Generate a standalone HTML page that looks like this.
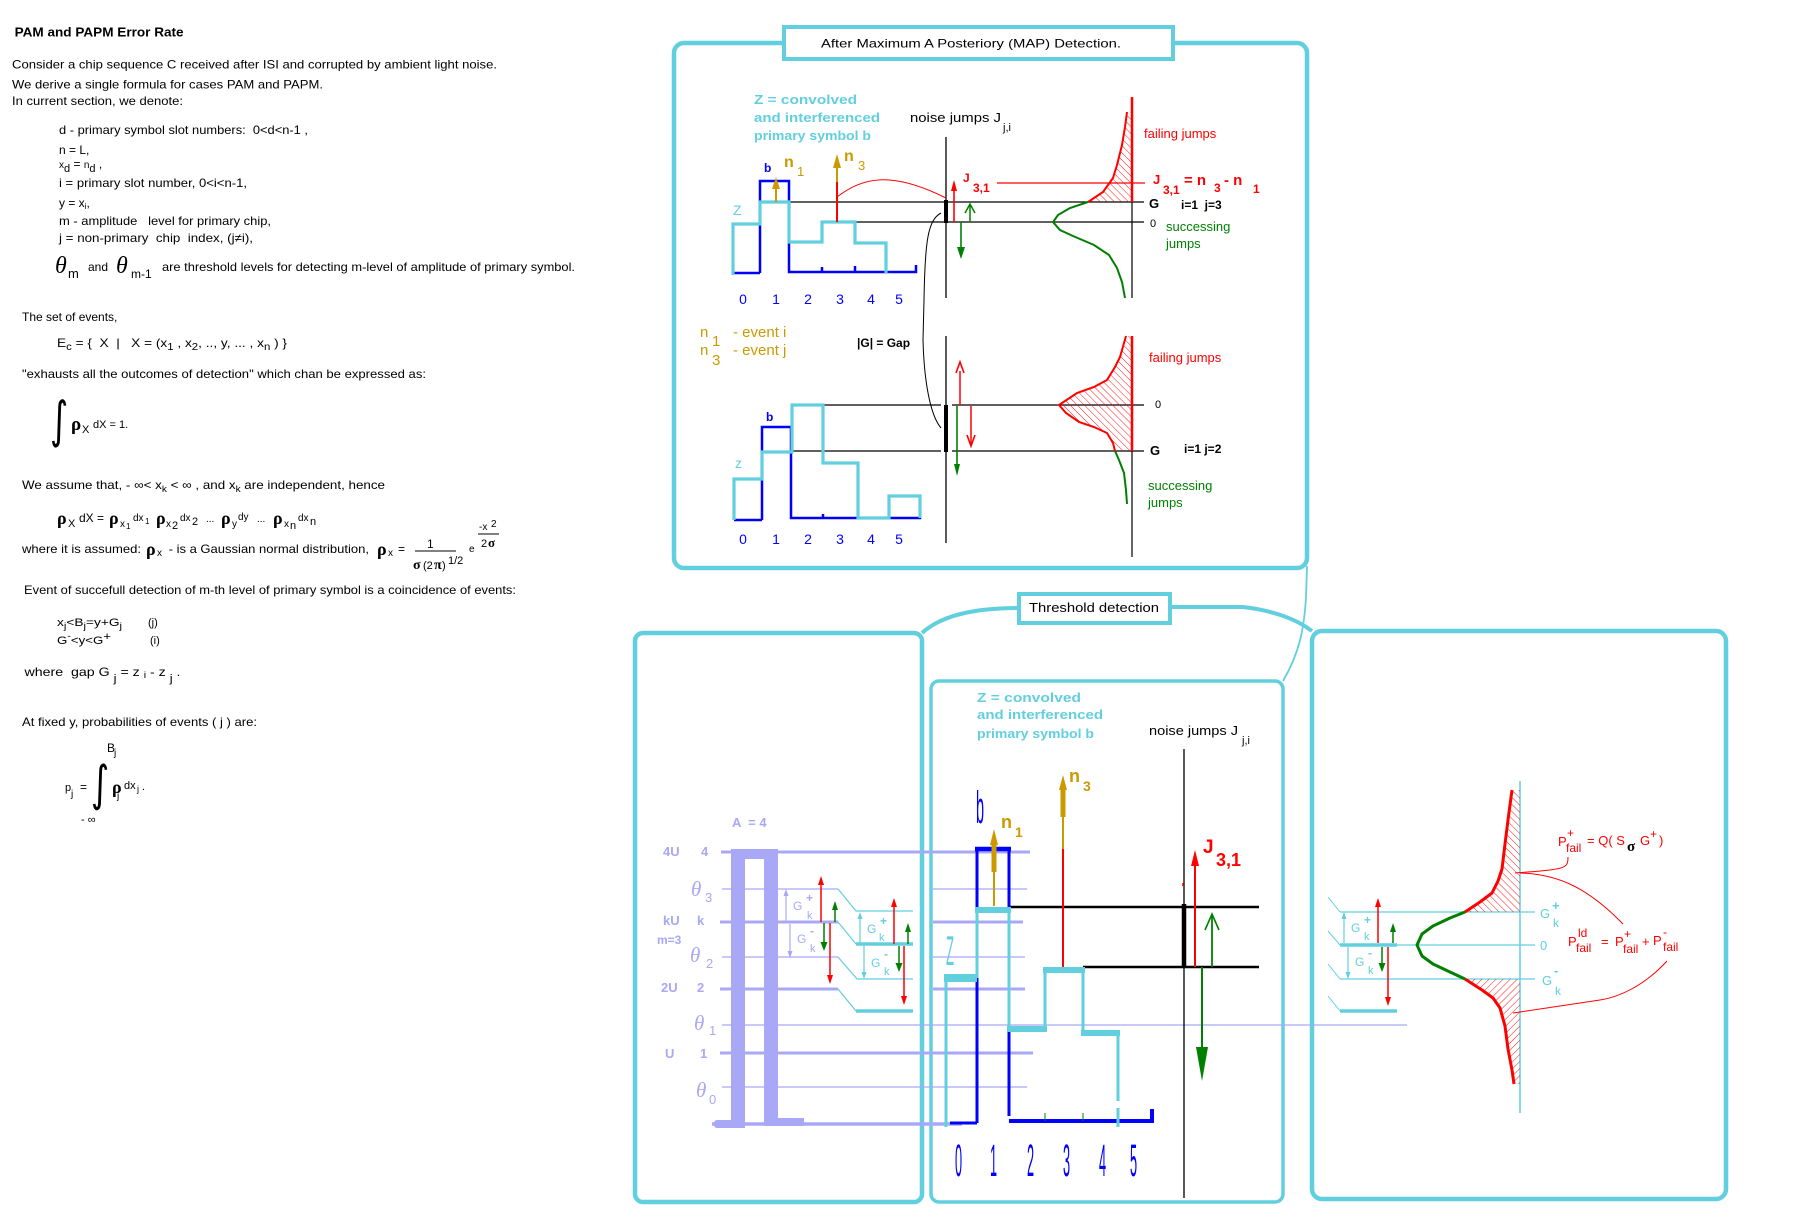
<!DOCTYPE html>
<html><head><meta charset="utf-8"><style>
html,body{margin:0;padding:0;background:#fff;}
svg{display:block;}
text{font-family:"Liberation Sans",Arial,sans-serif;white-space:pre;}
.sr{font-family:"Liberation Serif","DejaVu Serif",serif;}
.ig{font-family:"DejaVu Sans",sans-serif;}
</style></head><body>
<svg xmlns="http://www.w3.org/2000/svg" width="1795" height="1232" viewBox="0 0 1795 1232">
<defs>
<pattern id="hd" width="5" height="5" patternUnits="userSpaceOnUse" patternTransform="rotate(-45)"><line x1="0" y1="0" x2="0" y2="5" stroke="#f00" stroke-width="0.9"/></pattern>
<pattern id="hu" width="5" height="5" patternUnits="userSpaceOnUse" patternTransform="rotate(45)"><line x1="0" y1="0" x2="0" y2="5" stroke="#f00" stroke-width="0.9"/></pattern>
</defs>
<rect width="1795" height="1232" fill="#fff"/>

<!-- ============ LEFT TEXT ============ -->
<g fill="#000">
<text x="14.6" y="36.5" font-size="13" font-weight="bold" textLength="169" lengthAdjust="spacingAndGlyphs">PAM and PAPM Error Rate</text>
<g font-size="12">
<text x="12" y="68.5" textLength="485" lengthAdjust="spacingAndGlyphs">Consider a chip sequence C received after ISI and corrupted by ambient light noise.</text>
<text x="12" y="88.5" textLength="311" lengthAdjust="spacingAndGlyphs">We derive a single formula for cases PAM and PAPM.</text>
<text x="12" y="105" textLength="171" lengthAdjust="spacingAndGlyphs">In current section, we denote:</text>
<text x="59" y="134" textLength="249" lengthAdjust="spacingAndGlyphs">d - primary symbol slot numbers:  0&lt;d&lt;n-1 ,</text>
<text x="59" y="154">n = L,</text>
<text x="59" y="168"><tspan font-size="10">x</tspan><tspan font-size="11" dy="4">d</tspan><tspan dy="-4"> = </tspan><tspan font-size="10">n</tspan><tspan font-size="11" dy="4">d</tspan><tspan dy="-4"> ,</tspan></text>
<text x="59" y="187" textLength="188" lengthAdjust="spacingAndGlyphs">i = primary slot number, 0&lt;i&lt;n-1,</text>
<text x="59" y="207">y = x<tspan font-size="8" dy="2">i</tspan><tspan dy="-2">,</tspan></text>
<text x="59" y="225" textLength="212" lengthAdjust="spacingAndGlyphs">m - amplitude   level for primary chip,</text>
<text x="59" y="242" textLength="194" lengthAdjust="spacingAndGlyphs">j = non-primary  chip  index, (j≠i),</text>
<text x="55" y="273" class="sr" font-style="italic" font-size="24">θ</text>
<text x="68" y="278" font-size="13">m</text>
<text x="88" y="271">and</text>
<text x="116" y="273" class="sr" font-style="italic" font-size="24">θ</text>
<text x="131" y="278" font-size="12">m-1</text>
<text x="162" y="271" textLength="413" lengthAdjust="spacingAndGlyphs">are threshold levels for detecting m-level of amplitude of primary symbol.</text>
<text x="22" y="321">The set of events,</text>
<text x="57" y="347" textLength="230" lengthAdjust="spacingAndGlyphs">E<tspan font-size="10" dy="3">c</tspan><tspan dy="-3"> = {  X  |   X = (x</tspan><tspan font-size="10" dy="3">1</tspan><tspan dy="-3"> , x</tspan><tspan font-size="10" dy="3">2</tspan><tspan dy="-3">, .., y, ... , x</tspan><tspan font-size="10" dy="3">n</tspan><tspan dy="-3"> ) }</tspan></text>
<text x="22" y="378" textLength="404" lengthAdjust="spacingAndGlyphs">"exhausts all the outcomes of detection" which chan be expressed as:</text>
<text class="ig" transform="translate(50,437) scale(0.7,1)" font-size="50">∫</text>
<text x="71" y="430" class="sr" font-weight="bold" font-size="19">ρ</text>
<text x="82" y="433" font-size="11">X</text>
<text x="93" y="428" font-size="11">dX = 1.</text>

<text x="22" y="489" textLength="363" lengthAdjust="spacingAndGlyphs">We assume that, - ∞&lt; x<tspan font-size="9" dy="3">k</tspan><tspan dy="-3"> &lt; ∞ , and x</tspan><tspan font-size="9" dy="3">k</tspan><tspan dy="-3"> are independent, hence</tspan></text>

<text x="57" y="524" class="sr" font-weight="bold" font-size="18">ρ</text><text x="68" y="527" font-size="11">X</text><text x="79" y="522">dX =</text>
<text x="109" y="524" class="sr" font-weight="bold" font-size="18">ρ</text><text x="120" y="527" font-size="10">x</text><text x="126" y="529" font-size="8">1</text><text x="133" y="521" font-size="10">dx</text><text x="145" y="524" font-size="8">1</text>
<text x="156" y="524" class="sr" font-weight="bold" font-size="18">ρ</text><text x="166" y="527" font-size="10">x</text><text x="172" y="529" font-size="11">2</text><text x="180" y="521" font-size="10">dx</text><text x="192" y="525" font-size="11">2</text>
<text x="206" y="522" font-size="10">...</text>
<text x="221" y="524" class="sr" font-weight="bold" font-size="18">ρ</text><text x="232" y="527" font-size="10">y</text><text x="238" y="520" font-size="10">dy</text>
<text x="257" y="522" font-size="10">...</text>
<text x="273" y="524" class="sr" font-weight="bold" font-size="18">ρ</text><text x="284" y="527" font-size="10">x</text><text x="290" y="529" font-size="11">n</text><text x="298" y="521" font-size="10">dx</text><text x="310" y="525" font-size="11">n</text>

<text x="22" y="553" textLength="119" lengthAdjust="spacingAndGlyphs">where it is assumed:</text>
<text x="146" y="555" class="sr" font-weight="bold" font-size="18">ρ</text><text x="157" y="556" font-size="10">x</text>
<text x="165" y="553" textLength="204" lengthAdjust="spacingAndGlyphs"> - is a Gaussian normal distribution,</text>
<text x="377" y="555" class="sr" font-weight="bold" font-size="18">ρ</text><text x="388" y="556" font-size="10">x</text>
<text x="398" y="553">=</text>
<text x="427" y="548" font-size="12">1</text>
<line x1="415" y1="551" x2="456" y2="551" stroke="#000" stroke-width="1"/>
<text x="413" y="569" class="sr" font-weight="bold" font-size="14">σ</text><text x="423" y="569" font-size="11">(2</text><text x="434" y="569" class="sr" font-weight="bold" font-size="14">π</text><text x="442" y="569" font-size="11">)</text>
<text x="448" y="564" font-size="11">1/2</text>
<text x="469" y="552" font-size="10">e</text>
<text x="479" y="530" font-size="10">-x</text><text x="491" y="527" font-size="10">2</text>
<line x1="478" y1="534" x2="499" y2="534" stroke="#000" stroke-width="1"/>
<text x="481" y="547" font-size="11">2</text><text x="488" y="547" class="sr" font-weight="bold" font-size="13">σ</text>

<text x="24" y="594" textLength="492" lengthAdjust="spacingAndGlyphs">Event of succefull detection of m-th level of primary symbol is a coincidence of events:</text>
<text x="57" y="626" font-size="11" textLength="65" lengthAdjust="spacingAndGlyphs">x<tspan font-size="9" dy="3">j</tspan><tspan dy="-3">&lt;B</tspan><tspan font-size="9" dy="3">j</tspan><tspan dy="-3">=y+G</tspan><tspan font-size="9" dy="3">j</tspan></text>
<text x="148" y="626" font-size="11">(j)</text>
<text x="57" y="644" font-size="11" textLength="54" lengthAdjust="spacingAndGlyphs">G<tspan font-size="9" dy="-5">-</tspan><tspan dy="5">&lt;y&lt;G</tspan><tspan dy="-4">+</tspan></text>
<text x="150" y="644" font-size="11">(i)</text>
<text x="24.5" y="676" textLength="156" lengthAdjust="spacingAndGlyphs">where  gap G <tspan font-size="11" dy="6">j</tspan><tspan dy="-6"> = z </tspan><tspan font-size="9" dy="2">i</tspan><tspan dy="-2"> - z </tspan><tspan font-size="11" dy="6">j</tspan><tspan dy="-6"> .</tspan></text>
<text x="22" y="726" textLength="235" lengthAdjust="spacingAndGlyphs">At fixed y, probabilities of events ( j ) are:</text>
<text x="107" y="752">B</text><text x="114" y="756" font-size="10">j</text>
<text x="65" y="791" font-size="11">p</text><text x="71" y="797" font-size="10">j</text><text x="80" y="791">=</text>
<text class="ig" transform="translate(91,800) scale(0.7,0.97)" font-size="50">∫</text>
<text x="112" y="793" class="sr" font-weight="bold" font-size="18">ρ</text><text x="117" y="799" font-size="10">j</text>
<text x="124" y="789" font-size="11">dx</text><text x="137" y="792" font-size="9">j</text><text x="142" y="790" font-size="11">.</text>
<text x="81" y="823" font-size="11">- ∞</text>
</g>
</g>

<!-- ============ TOP MAP PANEL ============ -->
<rect x="674" y="43" width="633" height="525" rx="10" fill="none" stroke="#62cfdf" stroke-width="4.5"/>
<rect x="784" y="27" width="389" height="32" fill="#fff" stroke="#62cfdf" stroke-width="4"/>
<text x="971" y="47.5" font-size="12" text-anchor="middle" textLength="300" lengthAdjust="spacingAndGlyphs">After Maximum A Posteriory (MAP) Detection.</text>

<path d="M1307,566 L1306,598 C1304,628 1300,652 1283,681" stroke="#62cfdf" stroke-width="1.8" fill="none"/>

<g fill="#62cfdf" font-weight="bold" font-size="12.5">
<text x="754" y="104" textLength="103" lengthAdjust="spacingAndGlyphs">Z = convolved</text>
<text x="754" y="122" textLength="126" lengthAdjust="spacingAndGlyphs">and interferenced</text>
<text x="754" y="140" textLength="117" lengthAdjust="spacingAndGlyphs">primary symbol b</text>
</g>
<text x="910" y="122" font-size="13" textLength="91" lengthAdjust="spacingAndGlyphs">noise jumps J</text>
<text x="1003" y="131" font-size="11">j,i</text>

<line x1="946" y1="137" x2="946" y2="298" stroke="#000" stroke-width="1.3"/>
<line x1="946" y1="336" x2="946" y2="543" stroke="#000" stroke-width="1.3"/>

<line x1="789" y1="202" x2="1144" y2="202" stroke="#000" stroke-width="1.2"/>
<line x1="855" y1="222" x2="1144" y2="222" stroke="#000" stroke-width="1.2"/>
<path d="M733,273 L760,273 M760,273 L760,181 L789,181 L789,272 L916,272 L916,265 M822,272 L822,267 M855,272 L855,266" stroke="#0000ff" stroke-width="2.5" fill="none"/>
<path d="M733,275 L733,224 L760,224 L760,202 L789,202 L789,242 L822,242 L822,222 L855,222 L855,243 L886,243 L886,273" stroke="#62cfdf" stroke-width="3.2" fill="none"/>
<text x="764" y="172" font-size="12" font-weight="bold" fill="#0000ff">b</text>
<text x="733" y="215" font-size="14" fill="#62cfdf">Z</text>
<line x1="776" y1="202" x2="776" y2="185" stroke="#cc9900" stroke-width="2"/>
<polygon points="776,177 772,189 780,189" fill="#cc9900"/>
<text x="784" y="167" font-size="16" font-weight="bold" fill="#cc9900">n</text>
<text x="797" y="176" font-size="13" fill="#cc9900">1</text>
<line x1="837" y1="222" x2="837" y2="182" stroke="#f00" stroke-width="2"/>
<line x1="837" y1="182" x2="837" y2="162" stroke="#cc9900" stroke-width="2"/>
<polygon points="837,154 833,168 841,168" fill="#cc9900"/>
<text x="844" y="161" font-size="16" font-weight="bold" fill="#cc9900">n</text>
<text x="858" y="170" font-size="13" fill="#cc9900">3</text>
<path d="M837,197 C862,178 890,170 946,198" stroke="#f00" stroke-width="1" fill="none"/>
<line x1="997" y1="183" x2="1145" y2="183" stroke="#f00" stroke-width="1.2"/>
<line x1="946" y1="200" x2="946" y2="223" stroke="#000" stroke-width="4"/>
<line x1="954" y1="222" x2="954" y2="188" stroke="#f00" stroke-width="1.6"/>
<polygon points="954,180 951,191 957,191" fill="#f00"/>
<line x1="970" y1="222" x2="970" y2="205" stroke="#008000" stroke-width="1.5"/>
<polyline points="965,213 970,204 975,213" stroke="#008000" stroke-width="1.5" fill="none"/>
<line x1="961" y1="222" x2="961" y2="250" stroke="#008000" stroke-width="1.6"/>
<polygon points="961,259 957,247 965,247" fill="#008000"/>
<text x="963" y="182" font-size="12" font-weight="bold" fill="#f00">J</text>
<text x="973" y="192" font-size="12" font-weight="bold" fill="#f00">3,1</text>
<path d="M941,213 C928,220 925,240 924,300 L923,340 C924,380 930,415 941,428" stroke="#000" stroke-width="1" fill="none"/>
<polygon points="1088,202 1103,192 1113,178 1117,165 1122,145 1125,127 1127,112 1132,112 1132,202" fill="url(#hd)"/>
<polyline points="1088,202 1103,192 1113,178 1117,165 1122,145 1125,127 1127,112" stroke="#f00" stroke-width="2" fill="none"/>
<polyline points="1088,202 1070,208 1058,215 1053,222 1060,230 1073,236 1094,245 1109,255 1117,268 1122,282 1125,298" stroke="#008000" stroke-width="2" fill="none"/>
<line x1="1132" y1="97" x2="1132" y2="202" stroke="#f00" stroke-width="2.5"/>
<line x1="1132" y1="202" x2="1132" y2="298" stroke="#000" stroke-width="1.2"/>
<text x="1144" y="138" font-size="13" fill="#f00">failing jumps</text>
<text x="1153" y="184" font-size="13" font-weight="bold" fill="#f00">J</text>
<text x="1163" y="194" font-size="12" font-weight="bold" fill="#f00">3,1</text>
<text x="1184" y="185" font-size="15" font-weight="bold" fill="#f00">= n</text>
<text x="1214" y="192" font-size="12" font-weight="bold" fill="#f00">3</text>
<text x="1224" y="185" font-size="15" font-weight="bold" fill="#f00">- n</text>
<text x="1253" y="193" font-size="12" font-weight="bold" fill="#f00">1</text>
<text x="1149" y="208" font-size="13" font-weight="bold">G</text>
<text x="1181" y="209" font-size="12" font-weight="bold">i=1  j=3</text>
<text x="1150" y="227" font-size="11">0</text>
<text x="1166" y="231" font-size="13" fill="#008000">successing</text>
<text x="1166" y="248" font-size="13" fill="#008000">jumps</text>
<g font-size="14" fill="#0000ff" text-anchor="middle">
<text x="743" y="304">0</text><text x="776" y="304">1</text><text x="808" y="304">2</text><text x="840" y="304">3</text><text x="871" y="304">4</text><text x="899" y="304">5</text>
</g>

<g fill="#cc9900">
<text x="700" y="337" font-size="15">n</text><text x="712" y="346" font-size="15">1</text><text x="733" y="337" font-size="15">- event i</text>
<text x="700" y="355" font-size="15">n</text><text x="712" y="365" font-size="15">3</text><text x="733" y="355" font-size="15">- event j</text>
</g>
<text x="857" y="347" font-size="12" font-weight="bold">|G| = Gap</text>

<line x1="793" y1="405" x2="941" y2="405" stroke="#000" stroke-width="1.2"/>
<line x1="952" y1="405" x2="1144" y2="405" stroke="#000" stroke-width="1.2"/>
<line x1="793" y1="451" x2="941" y2="451" stroke="#000" stroke-width="1.2"/>
<line x1="952" y1="451" x2="1144" y2="451" stroke="#000" stroke-width="1.2"/>
<path d="M734,520 L762,520 M762,520 L762,427 L791,427 L791,518 L920,518 L920,511 M823,518 L823,514" stroke="#0000ff" stroke-width="2.5" fill="none"/>
<path d="M734,520 L734,479 L762,479 L762,452 L792,452 L792,405 L823,405 L823,463 L858,463 L858,518 L889,518 L889,496 L920,496 L920,518" stroke="#62cfdf" stroke-width="3.2" fill="none"/>
<text x="766" y="421" font-size="12" font-weight="bold" fill="#0000ff">b</text>
<text x="735" y="468" font-size="14" fill="#62cfdf">z</text>
<line x1="946" y1="405" x2="946" y2="452" stroke="#000" stroke-width="4"/>
<line x1="960" y1="405" x2="960" y2="371" stroke="#f00" stroke-width="1.5"/>
<polyline points="956,373 960,362 964,373" stroke="#f00" stroke-width="1.6" fill="none"/>
<line x1="971" y1="406" x2="971" y2="444" stroke="#f00" stroke-width="1.5"/>
<polyline points="967,435 971,446 975,435" stroke="#f00" stroke-width="1.6" fill="none"/>
<line x1="957" y1="406" x2="957" y2="466" stroke="#008000" stroke-width="1.6"/>
<polygon points="957,476 954,464 960,464" fill="#008000"/>
<polygon points="1126,336 1120,357 1115,367 1107,380 1094,387 1077,393 1059,405 1066,413 1079,422 1094,427 1107,433 1113,443 1115,451 1132,451 1132,336" fill="url(#hd)"/>
<polyline points="1126,336 1120,357 1115,367 1107,380 1094,387 1077,393 1059,405 1066,413 1079,422 1094,427 1107,433 1113,443 1115,451" stroke="#f00" stroke-width="2" fill="none"/>
<polyline points="1115,451 1119,460 1124,473 1126,490 1127,504" stroke="#008000" stroke-width="2" fill="none"/>
<line x1="1132" y1="336" x2="1132" y2="451" stroke="#f00" stroke-width="2.5"/>
<line x1="1132" y1="451" x2="1132" y2="557" stroke="#000" stroke-width="1.2"/>
<text x="1149" y="362" font-size="13" fill="#f00">failing jumps</text>
<text x="1155" y="408" font-size="11">0</text>
<text x="1150" y="455" font-size="13" font-weight="bold">G</text>
<text x="1184" y="453" font-size="12" font-weight="bold">i=1 j=2</text>
<text x="1148" y="490" font-size="13" fill="#008000">successing</text>
<text x="1148" y="507" font-size="13" fill="#008000">jumps</text>
<g font-size="14" fill="#0000ff" text-anchor="middle">
<text x="743" y="544">0</text><text x="776" y="544">1</text><text x="808" y="544">2</text><text x="840" y="544">3</text><text x="871" y="544">4</text><text x="899" y="544">5</text>
</g>

<!-- ============ LOWER PANELS ============ -->
<rect x="635" y="633" width="287" height="569" rx="8" fill="none" stroke="#62cfdf" stroke-width="4.5"/>
<rect x="931" y="681" width="352" height="521" rx="8" fill="none" stroke="#62cfdf" stroke-width="3.5"/>
<rect x="1312" y="631" width="414" height="568" rx="10" fill="none" stroke="#62cfdf" stroke-width="4.5"/>
<path d="M1019,608 C985,608 945,612 922,633" stroke="#62cfdf" stroke-width="4" fill="none"/>
<path d="M1170,607 L1243,607 C1270,610 1295,618 1312,631" stroke="#62cfdf" stroke-width="4" fill="none"/>
<rect x="1019" y="594" width="151" height="29" fill="#fff" stroke="#62cfdf" stroke-width="4"/>
<text x="1094" y="612" font-size="13" text-anchor="middle" textLength="130" lengthAdjust="spacingAndGlyphs">Threshold detection</text>

<g stroke="#a8a8f6" fill="none">
<line x1="721" y1="852" x2="1030" y2="852" stroke-width="3"/>
<line x1="722" y1="889" x2="838" y2="889" stroke-width="1.2"/>
<line x1="720" y1="922" x2="838" y2="922" stroke-width="3"/>
<line x1="722" y1="957" x2="838" y2="957" stroke-width="1.2"/>
<line x1="720" y1="989" x2="838" y2="989" stroke-width="3"/>
<line x1="722" y1="1025" x2="1407" y2="1025" stroke-width="1.2"/>
<line x1="720" y1="1053" x2="1033" y2="1053" stroke-width="3"/>
<line x1="722" y1="1087" x2="1027" y2="1087" stroke-width="1.2"/>
<line x1="712" y1="1124" x2="962" y2="1124" stroke-width="3.5"/>
<line x1="933" y1="889" x2="1027" y2="889" stroke-width="1.2"/>
<line x1="933" y1="922" x2="1023" y2="922" stroke-width="3"/>
<line x1="933" y1="957" x2="1025" y2="957" stroke-width="1.2"/>
<line x1="933" y1="989" x2="1025" y2="989" stroke-width="3"/>
</g>
<g fill="#a8a8f6">
<rect x="731" y="849" width="47" height="10"/>
<rect x="731" y="849" width="14" height="279"/>
<rect x="764" y="849" width="14" height="277"/>
<rect x="714" y="1120" width="31" height="8" rx="3"/>
<rect x="764" y="1118" width="40" height="8"/>
</g>
<g stroke="#62cfdf" fill="none">
<path d="M838,889 L856,911 L913,911" stroke-width="1.2"/>
<path d="M838,922 L856,944" stroke-width="1.2"/>
<line x1="856" y1="944" x2="913" y2="944" stroke-width="3.5"/>
<path d="M838,957 L857,979 L913,979" stroke-width="1.2"/>
<path d="M838,989 L856,1011" stroke-width="1.2"/>
<line x1="856" y1="1011" x2="913" y2="1011" stroke-width="3.5"/>
</g>
<g fill="#a8a8f6" font-weight="bold" font-size="13">
<text x="732" y="827">A  = 4</text>
<text x="663" y="856">4U</text><text x="701" y="856">4</text>
<text x="663" y="925">kU</text><text x="697" y="925">k</text>
<text x="657" y="944" font-size="12">m=3</text>
<text x="661" y="992">2U</text><text x="697" y="992">2</text>
<text x="665" y="1058">U</text><text x="700" y="1058">1</text>
</g>
<g fill="#a8a8f6">
<text x="691" y="896" class="sr" font-style="italic" font-size="21">θ</text><text x="705" y="902" font-size="13">3</text>
<text x="690" y="962" class="sr" font-style="italic" font-size="21">θ</text><text x="706" y="968" font-size="13">2</text>
<text x="694" y="1030" class="sr" font-style="italic" font-size="21">θ</text><text x="709" y="1035" font-size="13">1</text>
<text x="696" y="1097" class="sr" font-style="italic" font-size="21">θ</text><text x="709" y="1104" font-size="13">0</text>
</g>
<g stroke-width="1.2" fill="none">
<line x1="786" y1="892" x2="786" y2="921" stroke="#a8a8f6"/>
<line x1="790" y1="924" x2="790" y2="955" stroke="#a8a8f6"/>
<line x1="821" y1="922" x2="821" y2="882" stroke="#f00" stroke-width="1.5"/>
<line x1="830" y1="923" x2="830" y2="978" stroke="#f00" stroke-width="1.5"/>
<line x1="835" y1="922" x2="835" y2="907" stroke="#008000" stroke-width="1.5"/>
<line x1="824" y1="923" x2="824" y2="945" stroke="#008000" stroke-width="1.5"/>
</g>
<polygon points="786,889 783.5,896 788.5,896" fill="#a8a8f6"/>
<polygon points="790,958 787.5,951 792.5,951" fill="#a8a8f6"/>
<polygon points="821,876 818,885 824,885" fill="#f00"/>
<polygon points="830,984 827,975 833,975" fill="#f00"/>
<polygon points="835,901 832,910 838,910" fill="#008000"/>
<polygon points="824,951 820.5,942 827.5,942" fill="#008000"/>
<g fill="#a8a8f6" font-size="12">
<text x="793" y="910">G</text><text x="806" y="902" font-size="12" font-weight="bold">+</text><text x="807" y="919" font-size="11">k</text>
<text x="797" y="943">G</text><text x="810" y="935" font-size="12" font-weight="bold">-</text><text x="810" y="952" font-size="11">k</text>
</g>
<g stroke-width="1.2" fill="none">
<line x1="860" y1="915" x2="860" y2="943" stroke="#62cfdf"/>
<line x1="864" y1="946" x2="864" y2="976" stroke="#62cfdf"/>
<line x1="894" y1="944" x2="894" y2="904" stroke="#f00" stroke-width="1.5"/>
<line x1="904" y1="946" x2="904" y2="998" stroke="#f00" stroke-width="1.5"/>
<line x1="908" y1="944" x2="908" y2="929" stroke="#008000" stroke-width="1.5"/>
<line x1="899" y1="946" x2="899" y2="966" stroke="#008000" stroke-width="1.5"/>
</g>
<polygon points="860,912 857.5,919 862.5,919" fill="#62cfdf"/>
<polygon points="864,979 861.5,972 866.5,972" fill="#62cfdf"/>
<polygon points="894,898 891,907 897,907" fill="#f00"/>
<polygon points="904,1005 901,996 907,996" fill="#f00"/>
<polygon points="908,923 905,932 911,932" fill="#008000"/>
<polygon points="899,972 895.5,963 902.5,963" fill="#008000"/>
<g fill="#62cfdf" font-size="12">
<text x="867" y="933">G</text><text x="880" y="925" font-weight="bold">+</text><text x="879" y="941" font-size="11">k</text>
<text x="871" y="967">G</text><text x="884" y="958" font-weight="bold">-</text><text x="884" y="975" font-size="11">k</text>
</g>

<!-- ============ MIDDLE PANEL CONTENT ============ -->
<g fill="#62cfdf" font-weight="bold" font-size="12.5">
<text x="977" y="702" textLength="104" lengthAdjust="spacingAndGlyphs">Z = convolved</text>
<text x="977" y="719" textLength="126" lengthAdjust="spacingAndGlyphs">and interferenced</text>
<text x="977" y="738" textLength="117" lengthAdjust="spacingAndGlyphs">primary symbol b</text>
</g>
<text x="1149" y="735" font-size="13" textLength="89" lengthAdjust="spacingAndGlyphs">noise jumps J</text>
<text x="1242" y="744" font-size="11">j,i</text>
<line x1="1184" y1="749" x2="1184" y2="1198" stroke="#000" stroke-width="1.3"/>
<line x1="1009" y1="907" x2="1259" y2="907" stroke="#000" stroke-width="2.5"/>
<line x1="1083" y1="967" x2="1259" y2="967" stroke="#000" stroke-width="2.5"/>
<line x1="1184" y1="904" x2="1184" y2="968" stroke="#000" stroke-width="4.5"/>
<line x1="1183" y1="883" x2="1183" y2="886" stroke="#f00" stroke-width="1.5"/>
<path d="M950,1123 L977,1123 M977,1123 L977,849 L1009,849 L1009,1116" stroke="#0000ff" stroke-width="3" fill="none"/>
<line x1="975" y1="849" x2="1011" y2="849" stroke="#0000ff" stroke-width="4.5"/>
<path d="M1009,1121 L1152,1121 L1152,1109" stroke="#0000ff" stroke-width="4" fill="none"/>
<path d="M1045,1121 L1045,1113 M1083,1121 L1083,1113" stroke="#008000" stroke-width="1" fill="none"/>
<path d="M946,1127 L946,978 M977,978 L977,910 M1009,910 L1009,1029 M1045,1029 L1045,970 M1083,970 L1083,1033 M1118,1033 L1118,1101 M1118,1108 L1118,1127" stroke="#62cfdf" stroke-width="3" fill="none"/>
<g fill="#62cfdf">
<rect x="944" y="974" width="33" height="8"/>
<rect x="975" y="907" width="36" height="6"/>
<rect x="1007" y="1026" width="40" height="6"/>
<rect x="1043" y="967" width="42" height="6"/>
<rect x="1081" y="1030" width="39" height="6"/>
</g>
<text transform="translate(946,965) scale(0.55,1.75)" font-size="24" fill="#62cfdf">Z</text>
<text transform="translate(976,823) scale(0.6,1.9)" font-size="24" fill="#0000ff">b</text>
<line x1="994" y1="906" x2="994" y2="836" stroke="#cc9900" stroke-width="2"/>
<polygon points="994,829 990,845 998,845" fill="#cc9900"/>
<rect x="991.5" y="845" width="5" height="27" fill="#cc9900"/>
<line x1="1063" y1="967" x2="1063" y2="849" stroke="#f00" stroke-width="2"/>
<line x1="1063" y1="849" x2="1063" y2="782" stroke="#cc9900" stroke-width="2"/>
<polygon points="1063,775 1059,790 1067,790" fill="#cc9900"/>
<rect x="1060.5" y="790" width="5" height="27" fill="#cc9900"/>
<text x="1001" y="828" font-size="18" font-weight="bold" fill="#cc9900">n</text>
<text x="1015" y="837" font-size="14" font-weight="bold" fill="#cc9900">1</text>
<text x="1069" y="782" font-size="18" font-weight="bold" fill="#cc9900">n</text>
<text x="1083" y="791" font-size="14" font-weight="bold" fill="#cc9900">3</text>
<line x1="1195" y1="967" x2="1195" y2="862" stroke="#f00" stroke-width="2"/>
<polygon points="1195,850 1191,866 1199,866" fill="#f00"/>
<text x="1203" y="853" font-size="19" font-weight="bold" fill="#f00">J</text>
<text x="1216" y="866" font-size="18" font-weight="bold" fill="#f00">3,1</text>
<line x1="1212" y1="967" x2="1212" y2="916" stroke="#008000" stroke-width="1.8"/>
<polyline points="1205,930 1212,914 1219,930" stroke="#008000" stroke-width="1.6" fill="none"/>
<line x1="1202" y1="967" x2="1202" y2="1050" stroke="#008000" stroke-width="2"/>
<polygon points="1202,1081 1196,1047 1208,1047" fill="#008000"/>
<g font-size="24" fill="#0000ff">
<text transform="translate(955,1176) scale(0.53,1.9)">0</text>
<text transform="translate(990,1176) scale(0.53,1.9)">1</text>
<text transform="translate(1027,1176) scale(0.53,1.9)">2</text>
<text transform="translate(1063,1176) scale(0.53,1.9)">3</text>
<text transform="translate(1099,1176) scale(0.53,1.9)">4</text>
<text transform="translate(1130,1176) scale(0.53,1.9)">5</text>
</g>

<!-- ============ RIGHT PANEL CONTENT ============ -->
<g stroke="#62cfdf" fill="none">
<line x1="1520" y1="781" x2="1520" y2="1113" stroke-width="1.5"/>
<line x1="1340" y1="912" x2="1535" y2="912" stroke-width="1.2"/>
<line x1="1340" y1="945" x2="1535" y2="945" stroke-width="1.2"/>
<line x1="1340" y1="979" x2="1535" y2="979" stroke-width="1.2"/>
<line x1="1340" y1="945" x2="1397" y2="945" stroke-width="3.5"/>
<line x1="1340" y1="1011" x2="1397" y2="1011" stroke-width="3.5"/>
<path d="M1328,897 L1340,912 M1328,931 L1340,945 M1328,964 L1340,979 M1328,996 L1340,1011" stroke-width="1"/>
<line x1="1344" y1="915" x2="1344" y2="943" stroke-width="1.2"/>
<line x1="1348" y1="947" x2="1348" y2="976" stroke-width="1.2"/>
</g>
<polygon points="1344,912 1341.5,919 1346.5,919" fill="#62cfdf"/>
<polygon points="1348,979 1345.5,972 1350.5,972" fill="#62cfdf"/>
<line x1="1378" y1="943" x2="1378" y2="904" stroke="#f00" stroke-width="1.5"/>
<polygon points="1378,898 1375,907 1381,907" fill="#f00"/>
<line x1="1388" y1="947" x2="1388" y2="999" stroke="#f00" stroke-width="1.5"/>
<polygon points="1388,1006 1385,997 1391,997" fill="#f00"/>
<line x1="1393" y1="943" x2="1393" y2="929" stroke="#008000" stroke-width="1.5"/>
<polygon points="1393,923 1390,932 1396,932" fill="#008000"/>
<line x1="1382" y1="947" x2="1382" y2="966" stroke="#008000" stroke-width="1.5"/>
<polygon points="1382,972 1378.5,963 1385.5,963" fill="#008000"/>
<g fill="#62cfdf" font-size="12">
<text x="1351" y="932">G</text><text x="1364" y="924" font-weight="bold">+</text><text x="1364" y="940" font-size="11">k</text>
<text x="1355" y="966">G</text><text x="1368" y="957" font-weight="bold">-</text><text x="1368" y="974" font-size="11">k</text>
</g>
<polygon points="1465,912 1480,902 1492,893 1498,881 1502,869 1505,844 1508,820 1512,790 1520,790 1520,912" fill="url(#hd)"/>
<polygon points="1465,979 1482,990 1493,998 1500,1008 1505,1026 1508,1049 1512,1070 1514,1084 1520,1084 1520,979" fill="url(#hu)"/>
<polyline points="1465,912 1480,902 1492,893 1498,881 1502,869 1505,844 1508,820 1512,790" stroke="#f00" stroke-width="3" fill="none" stroke-linejoin="round"/>
<polyline points="1465,979 1482,990 1493,998 1500,1008 1505,1026 1508,1049 1512,1070 1514,1084" stroke="#f00" stroke-width="3" fill="none" stroke-linejoin="round"/>
<polyline points="1465,912 1450,918 1433,926 1422,934 1417,945 1422,956 1433,964 1450,972 1465,979" stroke="#008000" stroke-width="3" fill="none" stroke-linejoin="round"/>
<g fill="#62cfdf" font-size="13">
<text x="1540" y="918">G</text><text x="1552" y="910" font-weight="bold">+</text><text x="1553" y="927" font-size="12">k</text>
<text x="1540" y="950">0</text>
<text x="1542" y="985">G</text><text x="1554" y="975" font-weight="bold">-</text><text x="1555" y="995" font-size="12">k</text>
</g>
<g fill="#f00" font-size="13">
<text x="1558" y="846">P</text><text x="1567" y="837" font-size="12">+</text><text x="1566" y="852" font-size="12">fail</text>
<text x="1587" y="845">= Q( S</text>
<text x="1627" y="851" class="sr" font-weight="bold" font-size="15" fill="#000">σ</text>
<text x="1640" y="845">G</text><text x="1650" y="838" font-size="12">+</text><text x="1659" y="845">)</text>
<text x="1568" y="946">P</text><text x="1578" y="937" font-size="12">ld</text><text x="1576" y="952" font-size="12">fail</text>
<text x="1601" y="946">=</text>
<text x="1615" y="946">P</text><text x="1624" y="938" font-size="12">+</text><text x="1623" y="953" font-size="12">fail</text>
<text x="1642" y="946">+</text>
<text x="1653" y="945">P</text><text x="1663" y="936" font-size="12">-</text><text x="1663" y="951" font-size="12">fail</text>
</g>
<g stroke="#f00" stroke-width="1" fill="none">
<path d="M1515,873 C1540,871 1560,870 1565,866 C1568,864 1568,860 1568,857"/>
<path d="M1520,873 C1560,874 1590,890 1623,924"/>
<path d="M1513,1013 L1600,1000 C1620,997 1645,985 1667,961"/>
</g>
</svg>
</body></html>
